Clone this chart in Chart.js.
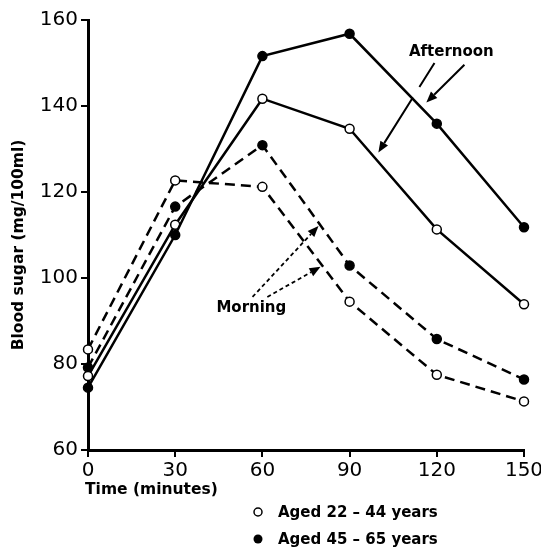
<!DOCTYPE html>
<html>
<head>
<meta charset="utf-8">
<script src="https://cdn.jsdelivr.net/npm/chart.js@4.4.1/dist/chart.umd.min.js"></script>
<style>
  html, body { margin: 0; padding: 0; background: #fff; }
  canvas { display: block; }
</style>
</head>
<body>
<canvas id="myChart" width="541" height="547"></canvas>
<script>
// time after glucose load (minutes)
const times = [0, 30, 60, 90, 120, 150];
const yTicks = [60, 80, 100, 120, 140, 160];

// blood sugar, mg/100ml
const afternoonOlder = [74.5, 110, 151.6, 156.8, 135.9, 111.8];
const afternoonYounger = [77.2, 112.4, 141.7, 134.7, 111.3, 93.9];
const morningYounger = [83.4, 122.7, 121.2, 94.5, 77.5, 71.3];
const morningOlder = [79.2, 116.6, 130.9, 102.9, 85.8, 76.4];

const FONT = "'DejaVu Sans', sans-serif";

function toPoints(values) {
  return times.map((t, i) => ({ x: t, y: values[i] }));
}

function series(values, filled, dashed) {
  return {
    data: toPoints(values),
    borderColor: "#000",
    borderWidth: 2.5,
    borderDash: dashed ? [10, 6] : [],
    pointRadius: 4.5,
    pointBorderWidth: 1.5,
    pointBorderColor: "#000",
    pointBackgroundColor: filled ? "#000" : "#fff",
    tension: 0,
    clip: false,
  };
}

// annotation arrows, given in data units (minutes, mg/100ml)
const notes = [
  { text: "Afternoon", x: 125, y: 152.6 },
  { text: "Morning", x: 56.2, y: 92.9 },
];
const arrows = [
  { from: [119.2, 150.0], to: [99.9, 129.2], dotted: false, gap: [0.3, 0.43] },
  { from: [129.5, 149.6], to: [116.4, 140.8], dotted: false },
  { from: [56.6, 95.6], to: [79.3, 112.1], dotted: true },
  { from: [61.7, 95.6], to: [80.0, 102.6], dotted: true },
];

const extras = {
  id: "extras",
  afterDraw(chart) {
    const ctx = chart.ctx;
    const xs = chart.scales.x;
    const ys = chart.scales.y;
    ctx.save();
    ctx.fillStyle = "#000";
    ctx.strokeStyle = "#000";

    // axis titles
    ctx.font = "bold 15.5px " + FONT;
    ctx.textAlign = "left";
    ctx.textBaseline = "middle";
    ctx.fillText("Time (minutes)", 85, 490);

    ctx.save();
    ctx.translate(19, 245);
    ctx.rotate(-Math.PI / 2);
    ctx.textAlign = "center";
    ctx.fillText("Blood sugar (mg/100ml)", 0, 0);
    ctx.restore();

    // legend
    ctx.font = "bold 15px " + FONT;
    ctx.lineWidth = 1.5;
    ctx.beginPath();
    ctx.arc(258, 512, 4, 0, Math.PI * 2);
    ctx.fillStyle = "#fff";
    ctx.fill();
    ctx.stroke();
    ctx.beginPath();
    ctx.arc(258, 539, 4.5, 0, Math.PI * 2);
    ctx.fillStyle = "#000";
    ctx.fill();
    ctx.textAlign = "left";
    ctx.fillText("Aged 22 \u2013 44 years", 278, 513);
    ctx.fillText("Aged 45 \u2013 65 years", 278, 540);

    // notes
    ctx.textAlign = "center";
    notes.forEach((n) => {
      ctx.fillText(n.text, xs.getPixelForValue(n.x), ys.getPixelForValue(n.y));
    });

    // arrows
    arrows.forEach((a) => {
      const x1 = xs.getPixelForValue(a.from[0]);
      const y1 = ys.getPixelForValue(a.from[1]);
      const x2 = xs.getPixelForValue(a.to[0]);
      const y2 = ys.getPixelForValue(a.to[1]);
      const ang = Math.atan2(y2 - y1, x2 - x1);
      const head = 11;
      const bx = x2 - head * Math.cos(ang);
      const by = y2 - head * Math.sin(ang);
      ctx.lineWidth = a.dotted ? 1.8 : 2;
      ctx.setLineDash(a.dotted ? [4, 3] : []);
      ctx.beginPath();
      if (a.gap) {
        const g0 = a.gap[0], g1 = a.gap[1];
        ctx.moveTo(x1, y1);
        ctx.lineTo(x1 + (bx - x1) * g0, y1 + (by - y1) * g0);
        ctx.moveTo(x1 + (bx - x1) * g1, y1 + (by - y1) * g1);
      } else {
        ctx.moveTo(x1, y1);
      }
      ctx.lineTo(bx, by);
      ctx.stroke();
      ctx.setLineDash([]);
      ctx.beginPath();
      ctx.moveTo(x2, y2);
      ctx.lineTo(bx + 4.5 * Math.sin(ang), by - 4.5 * Math.cos(ang));
      ctx.lineTo(bx - 4.5 * Math.sin(ang), by + 4.5 * Math.cos(ang));
      ctx.closePath();
      ctx.fill();
    });
    ctx.restore();
  },
};

const ctx = document.getElementById("myChart").getContext("2d");
const myChart = new Chart(ctx, {
  type: "line",
  data: {
    datasets: [
      series(afternoonOlder, true, false),
      series(afternoonYounger, false, false),
      series(morningOlder, true, true),
      series(morningYounger, false, true),
    ],
  },
  options: {
    responsive: false,
    animation: false,
    layout: { padding: { top: 20, right: 0, left: 0, bottom: 0 } },
    plugins: { legend: { display: false }, tooltip: { enabled: false } },
    scales: {
      x: {
        type: "linear",
        min: 0,
        max: 150,
        afterBuildTicks: (scale) => {
          scale.ticks = times.map((v) => ({ value: v }));
        },
        afterFit: (scale) => {
          scale.height = 97;
          scale.paddingRight = 17;
          scale.paddingLeft = 0;
        },
        ticks: { color: "#000", font: { family: FONT, size: 20 }, padding: 2, maxRotation: 0 },
        grid: { drawOnChartArea: false, drawTicks: true, tickLength: 7, color: "#000", lineWidth: 2 },
        border: { color: "#000", width: 3 },
      },
      y: {
        min: 60,
        max: 160,
        afterBuildTicks: (scale) => {
          scale.ticks = yTicks.map((v) => ({ value: v }));
        },
        afterFit: (scale) => {
          scale.width = 88;
        },
        ticks: { color: "#000", font: { family: FONT, size: 20 }, padding: 3 },
        grid: { drawOnChartArea: false, drawTicks: true, tickLength: 7, color: "#000", lineWidth: 2 },
        border: { color: "#000", width: 3 },
      },
    },
  },
  plugins: [extras],
});
</script>
</body>
</html>
